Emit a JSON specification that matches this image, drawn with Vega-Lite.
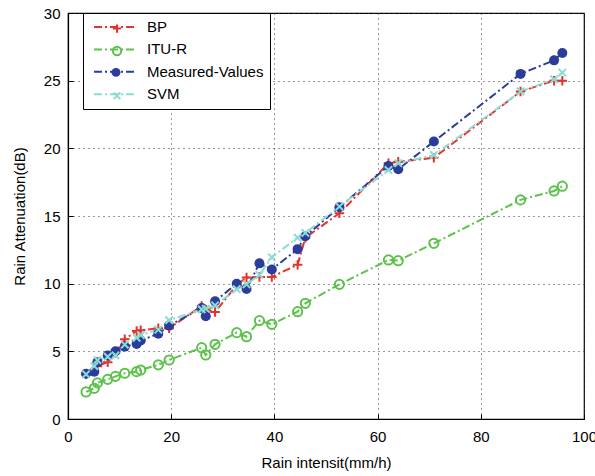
{
  "$schema": "https://vega.github.io/schema/vega-lite/v6.json",
  "width": 516,
  "height": 406,
  "autosize": {"type": "none"},
  "padding": {"left": 68, "top": 13, "right": 11, "bottom": 57},
  "background": "white",
  "config": {
    "font": "Liberation Sans",
    "view": {"stroke": "black", "strokeWidth": 1.2},
    "axis": {
      "labelFont": "Liberation Sans",
      "labelFontSize": 15,
      "labelColor": "black",
      "labelFlush": false,
      "titleFont": "Liberation Sans",
      "titleFontSize": 15,
      "titleFontWeight": "normal",
      "titleColor": "black",
      "domainColor": "black",
      "domainWidth": 1.2,
      "tickColor": "black",
      "tickSize": -5,
      "grid": true,
      "gridColor": "#333333",
      "gridDash": [1, 4],
      "gridWidth": 1
    },
    "legend": {"title": null, "orient": "none", "direction": "vertical"}
  },
  "data": {
    "values": [
      {"x": 3.5, "y": 3.3, "s": "BP"}, {"x": 5.1, "y": 3.6, "s": "BP"}, {"x": 5.7, "y": 3.9, "s": "BP"}, {"x": 7.7, "y": 4.2, "s": "BP"}, {"x": 9.2, "y": 4.9, "s": "BP"}, {"x": 11.0, "y": 5.9, "s": "BP"}, {"x": 13.3, "y": 6.5, "s": "BP"}, {"x": 14.1, "y": 6.55, "s": "BP"}, {"x": 17.5, "y": 6.7, "s": "BP"}, {"x": 19.6, "y": 6.7, "s": "BP"}, {"x": 25.9, "y": 8.35, "s": "BP"}, {"x": 26.7, "y": 8.1, "s": "BP"}, {"x": 28.5, "y": 7.9, "s": "BP"}, {"x": 32.7, "y": 9.9, "s": "BP"}, {"x": 34.6, "y": 10.45, "s": "BP"}, {"x": 37.1, "y": 10.5, "s": "BP"}, {"x": 39.5, "y": 10.5, "s": "BP"}, {"x": 44.5, "y": 11.4, "s": "BP"}, {"x": 46.0, "y": 13.4, "s": "BP"}, {"x": 52.6, "y": 15.2, "s": "BP"}, {"x": 62.1, "y": 18.9, "s": "BP"}, {"x": 64.0, "y": 19.0, "s": "BP"}, {"x": 70.9, "y": 19.3, "s": "BP"}, {"x": 87.7, "y": 24.2, "s": "BP"}, {"x": 94.2, "y": 25.0, "s": "BP"}, {"x": 95.8, "y": 25.0, "s": "BP"},
      {"x": 3.5, "y": 2.0, "s": "ITU-R"}, {"x": 5.1, "y": 2.27, "s": "ITU-R"}, {"x": 5.7, "y": 2.67, "s": "ITU-R"}, {"x": 7.7, "y": 2.93, "s": "ITU-R"}, {"x": 9.2, "y": 3.15, "s": "ITU-R"}, {"x": 11.0, "y": 3.38, "s": "ITU-R"}, {"x": 13.3, "y": 3.5, "s": "ITU-R"}, {"x": 14.1, "y": 3.62, "s": "ITU-R"}, {"x": 17.5, "y": 4.0, "s": "ITU-R"}, {"x": 19.6, "y": 4.36, "s": "ITU-R"}, {"x": 25.9, "y": 5.27, "s": "ITU-R"}, {"x": 26.7, "y": 4.73, "s": "ITU-R"}, {"x": 28.5, "y": 5.52, "s": "ITU-R"}, {"x": 32.7, "y": 6.38, "s": "ITU-R"}, {"x": 34.6, "y": 6.08, "s": "ITU-R"}, {"x": 37.1, "y": 7.27, "s": "ITU-R"}, {"x": 39.5, "y": 7.0, "s": "ITU-R"}, {"x": 44.5, "y": 7.93, "s": "ITU-R"}, {"x": 46.0, "y": 8.55, "s": "ITU-R"}, {"x": 52.6, "y": 9.95, "s": "ITU-R"}, {"x": 62.1, "y": 11.75, "s": "ITU-R"}, {"x": 64.0, "y": 11.7, "s": "ITU-R"}, {"x": 70.9, "y": 12.98, "s": "ITU-R"}, {"x": 87.7, "y": 16.19, "s": "ITU-R"}, {"x": 94.2, "y": 16.85, "s": "ITU-R"}, {"x": 95.8, "y": 17.2, "s": "ITU-R"},
      {"x": 3.5, "y": 3.35, "s": "Measured-Values"}, {"x": 5.1, "y": 3.5, "s": "Measured-Values"}, {"x": 5.7, "y": 4.2, "s": "Measured-Values"}, {"x": 7.7, "y": 4.7, "s": "Measured-Values"}, {"x": 9.2, "y": 5.0, "s": "Measured-Values"}, {"x": 11.0, "y": 5.35, "s": "Measured-Values"}, {"x": 13.3, "y": 5.55, "s": "Measured-Values"}, {"x": 14.1, "y": 5.8, "s": "Measured-Values"}, {"x": 17.5, "y": 6.3, "s": "Measured-Values"}, {"x": 19.6, "y": 6.9, "s": "Measured-Values"}, {"x": 25.9, "y": 8.2, "s": "Measured-Values"}, {"x": 26.7, "y": 7.6, "s": "Measured-Values"}, {"x": 28.5, "y": 8.7, "s": "Measured-Values"}, {"x": 32.7, "y": 10.0, "s": "Measured-Values"}, {"x": 34.6, "y": 9.6, "s": "Measured-Values"}, {"x": 37.1, "y": 11.5, "s": "Measured-Values"}, {"x": 39.5, "y": 11.05, "s": "Measured-Values"}, {"x": 44.5, "y": 12.55, "s": "Measured-Values"}, {"x": 46.0, "y": 13.5, "s": "Measured-Values"}, {"x": 52.6, "y": 15.65, "s": "Measured-Values"}, {"x": 62.1, "y": 18.7, "s": "Measured-Values"}, {"x": 64.0, "y": 18.45, "s": "Measured-Values"}, {"x": 70.9, "y": 20.5, "s": "Measured-Values"}, {"x": 87.7, "y": 25.5, "s": "Measured-Values"}, {"x": 94.2, "y": 26.5, "s": "Measured-Values"}, {"x": 95.8, "y": 27.05, "s": "Measured-Values"},
      {"x": 3.5, "y": 3.3, "s": "SVM"}, {"x": 5.1, "y": 3.9, "s": "SVM"}, {"x": 5.7, "y": 4.35, "s": "SVM"}, {"x": 7.7, "y": 4.6, "s": "SVM"}, {"x": 9.2, "y": 4.7, "s": "SVM"}, {"x": 11.0, "y": 5.5, "s": "SVM"}, {"x": 13.3, "y": 6.0, "s": "SVM"}, {"x": 14.1, "y": 6.2, "s": "SVM"}, {"x": 17.5, "y": 6.6, "s": "SVM"}, {"x": 19.6, "y": 7.3, "s": "SVM"}, {"x": 25.9, "y": 8.1, "s": "SVM"}, {"x": 26.7, "y": 8.15, "s": "SVM"}, {"x": 28.5, "y": 8.4, "s": "SVM"}, {"x": 32.7, "y": 9.6, "s": "SVM"}, {"x": 34.6, "y": 9.95, "s": "SVM"}, {"x": 37.1, "y": 10.65, "s": "SVM"}, {"x": 39.5, "y": 11.95, "s": "SVM"}, {"x": 44.5, "y": 13.4, "s": "SVM"}, {"x": 46.0, "y": 13.75, "s": "SVM"}, {"x": 52.6, "y": 15.7, "s": "SVM"}, {"x": 62.1, "y": 18.4, "s": "SVM"}, {"x": 64.0, "y": 18.9, "s": "SVM"}, {"x": 70.9, "y": 19.5, "s": "SVM"}, {"x": 87.7, "y": 24.2, "s": "SVM"}, {"x": 94.2, "y": 25.1, "s": "SVM"}, {"x": 95.8, "y": 25.6, "s": "SVM"}
    ]
  },
  "encoding": {
    "x": {
      "field": "x", "type": "quantitative",
      "scale": {"domain": [0, 100], "nice": false},
      "axis": {"values": [0, 20, 40, 60, 80, 100], "title": "Rain intensit(mm/h)", "labelPadding": 15, "titlePadding": 11}
    },
    "y": {
      "field": "y", "type": "quantitative",
      "scale": {"domain": [0, 30], "nice": false},
      "axis": {"values": [0, 5, 10, 15, 20, 25, 30], "title": "Rain Attenuation(dB)", "labelPadding": 13, "titlePadding": 16}
    }
  },
  "resolve": {"scale": {"shape": "independent"}},
  "layer": [
    {
      "mark": {"type": "line", "strokeWidth": 2, "strokeDash": [8, 3, 2, 3]},
      "encoding": {
        "color": {
          "field": "s", "type": "nominal",
          "scale": {"range": ["#e5332a", "#5cc24b", "#2b3d9b", "#8adcd6"]},
          "legend": {
            "legendX": 15,
            "legendY": 0,
            "symbolType": "M-2.857,0L2.857,0",
            "symbolSize": 196,
            "symbolStrokeWidth": 2,
            "symbolDash": [8, 3, 2, 3],
            "symbolOffset": 17,
            "labelOffset": 25,
            "labelFont": "Liberation Sans",
            "labelFontSize": 15,
            "labelColor": "black",
            "padding": 6,
            "rowPadding": 6.4,
            "strokeColor": "black",
            "fillColor": "white",
            "labelLimit": 300
          }
        }
      }
    },
    {
      "transform": [{"filter": "datum.s === 'BP'"}],
      "mark": {"type": "point", "filled": false, "strokeWidth": 2, "size": 90, "color": "#e5332a", "opacity": 1},
      "encoding": {
        "shape": {
          "field": "s", "type": "nominal",
          "scale": {"domain": ["BP"], "range": ["M-1,0L1,0M0,-1L0,1"]},
          "legend": {"legendX": 43.5, "legendY": 10.1, "symbolSize": 70, "symbolStrokeWidth": 2, "symbolStrokeColor": "#e5332a", "labelExpr": "''", "labelFontSize": 1, "padding": 0}
        }
      }
    },
    {
      "transform": [{"filter": "datum.s === 'ITU-R'"}],
      "mark": {"type": "point", "filled": false, "strokeWidth": 2, "size": 85, "color": "#5cc24b", "opacity": 1},
      "encoding": {
        "shape": {
          "field": "s", "type": "nominal",
          "scale": {"domain": ["ITU-R"], "range": ["circle"]},
          "legend": {"legendX": 43.5, "legendY": 32.5, "symbolSize": 70, "symbolStrokeWidth": 2, "symbolStrokeColor": "#5cc24b", "labelExpr": "''", "labelFontSize": 1, "padding": 0}
        }
      }
    },
    {
      "transform": [{"filter": "datum.s === 'Measured-Values'"}],
      "mark": {"type": "point", "filled": true, "size": 100, "color": "#2b3d9b", "opacity": 1},
      "encoding": {
        "shape": {
          "field": "s", "type": "nominal",
          "scale": {"domain": ["Measured-Values"], "range": ["circle"]},
          "legend": {"legendX": 43.5, "legendY": 54.9, "symbolSize": 80, "symbolFillColor": "#2b3d9b", "symbolStrokeWidth": 0, "labelExpr": "''", "labelFontSize": 1, "padding": 0}
        }
      }
    },
    {
      "transform": [{"filter": "datum.s === 'SVM'"}],
      "mark": {"type": "point", "filled": false, "strokeWidth": 2, "size": 85, "color": "#8adcd6", "opacity": 1},
      "encoding": {
        "shape": {
          "field": "s", "type": "nominal",
          "scale": {"domain": ["SVM"], "range": ["M-0.8,-0.8L0.8,0.8M-0.8,0.8L0.8,-0.8"]},
          "legend": {"legendX": 43.5, "legendY": 77.3, "symbolSize": 70, "symbolStrokeWidth": 2, "symbolStrokeColor": "#8adcd6", "labelExpr": "''", "labelFontSize": 1, "padding": 0}
        }
      }
    }
  ]
}
